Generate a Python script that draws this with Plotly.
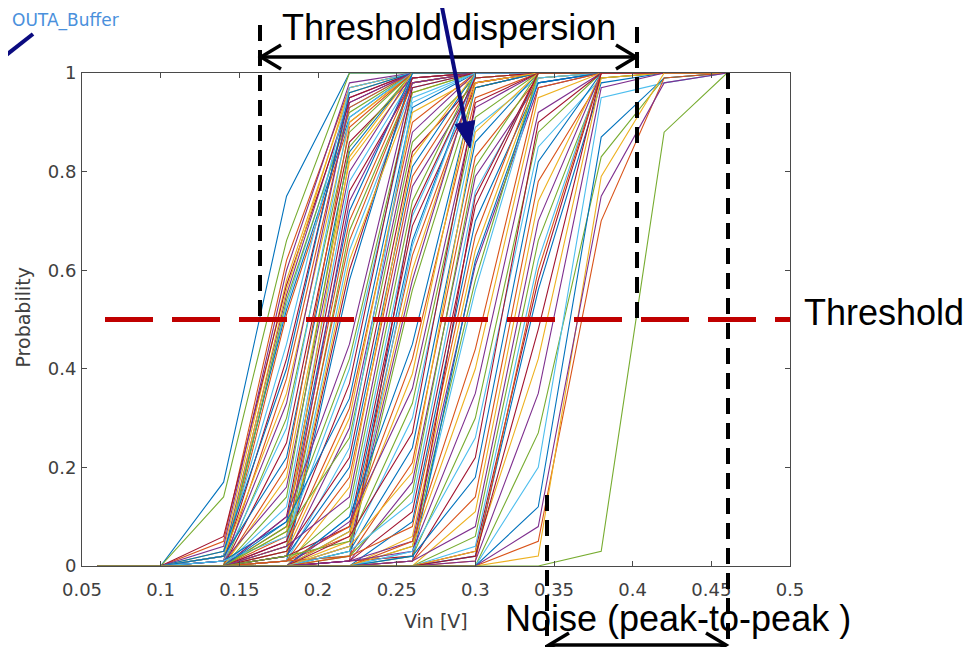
import math
import plotly.graph_objects as go

# ---------------- data ----------------
vin = [0.06, 0.10, 0.14, 0.18, 0.22, 0.26, 0.30, 0.34, 0.38, 0.42, 0.46]

probability_curves = [
    # threshold crossed between 0.14 and 0.18
    [0, 0, .17, .75, 1, 1, 1, 1, 1, 1, 1],
    [0, 0, .05, .62, .97, 1, 1, 1, 1, 1, 1],
    [0, 0, .03, .58, .96, 1, 1, 1, 1, 1, 1],
    [0, 0, .02, .55, .95, 1, 1, 1, 1, 1, 1],
    [0, 0, .14, .66, 1, 1, 1, 1, 1, 1, 1],
    [0, 0, .01, .53, .93, 1, 1, 1, 1, 1, 1],
    [0, 0, .06, .57, .94, 1, 1, 1, 1, 1, 1],
    [0, 0, .02, .52, .91, 1, 1, 1, 1, 1, 1],
    [0, 0, 0, .51, .90, 1, 1, 1, 1, 1, 1],
    [0, 0, .01, .56, .97, 1, 1, 1, 1, 1, 1],
    [0, 0, .04, .60, .98, 1, 1, 1, 1, 1, 1],
    [0, 0, 0, .54, .92, 1, 1, 1, 1, 1, 1],
    # threshold crossed between 0.18 and 0.22
    [0, 0, .02, .45, .97, 1, 1, 1, 1, 1, 1],
    [0, 0, .01, .42, .95, 1, 1, 1, 1, 1, 1],
    [0, 0, .03, .40, .96, 1, 1, 1, 1, 1, 1],
    [0, 0, 0, .38, .93, 1, 1, 1, 1, 1, 1],
    [0, 0, .02, .35, .90, 1, 1, 1, 1, 1, 1],
    [0, 0, .01, .33, .94, 1, 1, 1, 1, 1, 1],
    [0, 0, 0, .30, .88, 1, 1, 1, 1, 1, 1],
    [0, 0, .01, .28, .91, 1, 1, 1, 1, 1, 1],
    [0, 0, 0, .25, .86, .99, 1, 1, 1, 1, 1],
    [0, 0, .02, .22, .84, 1, 1, 1, 1, 1, 1],
    [0, 0, 0, .20, .89, 1, 1, 1, 1, 1, 1],
    [0, 0, 0, .18, .82, .99, 1, 1, 1, 1, 1],
    [0, 0, .01, .16, .80, 1, 1, 1, 1, 1, 1],
    [0, 0, 0, .14, .85, 1, 1, 1, 1, 1, 1],
    [0, 0, 0, .12, .78, .99, 1, 1, 1, 1, 1],
    [0, 0, 0, .10, .76, .98, 1, 1, 1, 1, 1],
    [0, 0, .01, .09, .72, 1, 1, 1, 1, 1, 1],
    [0, 0, 0, .08, .70, .99, 1, 1, 1, 1, 1],
    [0, 0, 0, .07, .83, 1, 1, 1, 1, 1, 1],
    [0, 0, 0, .05, .74, .99, 1, 1, 1, 1, 1],
    [0, 0, 0, .04, .68, .98, 1, 1, 1, 1, 1],
    [0, 0, 0, .03, .64, .97, 1, 1, 1, 1, 1],
    [0, 0, 0, .02, .60, .99, 1, 1, 1, 1, 1],
    [0, 0, 0, .01, .58, 1, 1, 1, 1, 1, 1],
    [0, 0, 0, .06, .66, .98, 1, 1, 1, 1, 1],
    [0, 0, 0, .02, .62, .96, 1, 1, 1, 1, 1],
    # threshold crossed between 0.22 and 0.26
    [0, 0, 0, .10, .45, .98, 1, 1, 1, 1, 1],
    [0, 0, 0, .08, .42, .96, 1, 1, 1, 1, 1],
    [0, 0, .01, .06, .40, .95, 1, 1, 1, 1, 1],
    [0, 0, 0, .05, .37, .97, 1, 1, 1, 1, 1],
    [0, 0, 0, .09, .34, .93, 1, 1, 1, 1, 1],
    [0, 0, 0, .04, .32, .90, 1, 1, 1, 1, 1],
    [0, 0, 0, .03, .30, .92, .99, 1, 1, 1, 1],
    [0, 0, 0, .02, .28, .88, 1, 1, 1, 1, 1],
    [0, 0, 0, .07, .26, .86, .99, 1, 1, 1, 1],
    [0, 0, 0, .01, .24, .94, 1, 1, 1, 1, 1],
    [0, 0, 0, .03, .22, .84, .98, 1, 1, 1, 1],
    [0, 0, 0, .02, .20, .81, 1, 1, 1, 1, 1],
    [0, 0, 0, .01, .18, .79, .99, 1, 1, 1, 1],
    [0, 0, 0, 0, .16, .83, 1, 1, 1, 1, 1],
    [0, 0, 0, .04, .14, .77, .98, 1, 1, 1, 1],
    [0, 0, 0, .01, .12, .74, 1, 1, 1, 1, 1],
    [0, 0, 0, 0, .10, .71, .99, 1, 1, 1, 1],
    [0, 0, 0, .02, .08, .69, .97, 1, 1, 1, 1],
    [0, 0, 0, 0, .07, .66, 1, 1, 1, 1, 1],
    [0, 0, 0, .01, .06, .63, .98, 1, 1, 1, 1],
    [0, 0, 0, 0, .05, .60, .99, 1, 1, 1, 1],
    [0, 0, 0, 0, .04, .58, 1, 1, 1, 1, 1],
    [0, 0, 0, 0, .03, .56, .97, 1, 1, 1, 1],
    [0, 0, 0, .01, .02, .65, 1, 1, 1, 1, 1],
    [0, 0, 0, 0, .01, .72, .99, 1, 1, 1, 1],
    # threshold crossed between 0.26 and 0.30
    [0, 0, 0, 0, .10, .45, .97, 1, 1, 1, 1],
    [0, 0, 0, .01, .08, .42, .95, 1, 1, 1, 1],
    [0, 0, 0, 0, .07, .39, .98, 1, 1, 1, 1],
    [0, 0, 0, 0, .09, .36, .93, 1, 1, 1, 1],
    [0, 0, 0, .02, .05, .33, .91, 1, 1, 1, 1],
    [0, 0, 0, 0, .04, .30, .89, .99, 1, 1, 1],
    [0, 0, 0, 0, .06, .27, .94, 1, 1, 1, 1],
    [0, 0, 0, 0, .03, .24, .86, 1, 1, 1, 1],
    [0, 0, 0, .01, .02, .21, .83, .99, 1, 1, 1],
    [0, 0, 0, 0, .04, .19, .88, 1, 1, 1, 1],
    [0, 0, 0, 0, .01, .17, .79, .98, 1, 1, 1],
    [0, 0, 0, 0, .02, .15, .81, 1, 1, 1, 1],
    [0, 0, 0, 0, .03, .13, .76, .99, 1, 1, 1],
    [0, 0, 0, 0, .01, .11, .73, 1, 1, 1, 1],
    [0, 0, 0, 0, 0, .09, .70, .98, 1, 1, 1],
    [0, 0, 0, 0, .02, .08, .67, 1, 1, 1, 1],
    [0, 0, 0, 0, 0, .06, .64, .99, 1, 1, 1],
    [0, 0, 0, 0, .01, .05, .61, .97, 1, 1, 1],
    [0, 0, 0, 0, 0, .04, .58, 1, 1, 1, 1],
    [0, 0, 0, 0, 0, .03, .56, .99, 1, 1, 1],
    [0, 0, 0, 0, .01, .02, .75, 1, 1, 1, 1],
    [0, 0, 0, 0, 0, .01, .62, .98, 1, 1, 1],
    # threshold crossed between 0.30 and 0.34
    [0, 0, 0, 0, 0, .05, .44, .97, 1, 1, 1],
    [0, 0, 0, 0, 0, .04, .40, .95, 1, 1, 1],
    [0, 0, 0, 0, .01, .03, .35, .92, 1, 1, 1],
    [0, 0, 0, 0, 0, .02, .30, .88, 1, 1, 1],
    [0, 0, 0, 0, 0, .03, .26, .85, .99, 1, 1],
    [0, 0, 0, 0, 0, .01, .22, .90, 1, 1, 1],
    [0, 0, 0, 0, 0, .02, .18, .82, 1, 1, 1],
    [0, 0, 0, 0, 0, .01, .14, .78, .99, 1, 1],
    [0, 0, 0, 0, 0, 0, .11, .74, 1, 1, 1],
    [0, 0, 0, 0, 0, .01, .08, .70, 1, 1, 1],
    [0, 0, 0, 0, 0, 0, .06, .66, .99, 1, 1],
    [0, 0, 0, 0, 0, 0, .04, .62, 1, 1, 1],
    [0, 0, 0, 0, 0, 0, .03, .58, 1, 1, 1],
    [0, 0, 0, 0, 0, 0, .02, .56, .98, 1, 1],
    [0, 0, 0, 0, 0, 0, .01, .60, 1, 1, 1],
    # threshold crossed between 0.34 and 0.38
    [0, 0, 0, 0, 0, 0, .03, .42, .99, 1, 1],
    [0, 0, 0, 0, 0, 0, .01, .35, .97, 1, 1],
    [0, 0, 0, 0, 0, 0, 0, .27, .83, .99, 1],
    [0, 0, 0, 0, 0, 0, 0, .20, .95, .98, 1],
    [0, 0, 0, 0, 0, 0, .02, .48, 1, 1, 1],
    [0, 0, 0, 0, 0, 0, 0, .12, .87, .99, 1],
    [0, 0, 0, 0, 0, 0, 0, .05, .70, .99, 1],
    [0, 0, 0, 0, 0, 0, 0, .02, .79, 1, 1],
    [0, 0, 0, 0, 0, 0, 0, .08, .75, .98, 1],
    # threshold crossed between 0.38 and 0.42
    [0, 0, 0, 0, 0, 0, 0, 0, .03, .88, 1],
]

line_colors = ['#0072BD', '#D95319', '#EDB120', '#7E2F8E', '#77AC30', '#4DBEEE', '#A2142F']

x_ticks = [0.05, 0.10, 0.15, 0.20, 0.25, 0.30, 0.35, 0.40, 0.45, 0.50]
x_tick_labels = ['0.05', '0.1', '0.15', '0.2', '0.25', '0.3', '0.35', '0.4', '0.45', '0.5']
y_ticks = [0, 0.2, 0.4, 0.6, 0.8, 1.0]
y_tick_labels = ['0', '0.2', '0.4', '0.6', '0.8', '1']

threshold = 0.5

# ---------------- layout geometry ----------------
# page pixel positions (the html body has an 8px margin)
OFF = 8
W, H = 973 - 2 * OFF, 655 - 2 * OFF
PL, PR, PT, PB = 82, 790, 73, 566   # plot area in page pixels


def px(x):
    return (x - PL) / (PR - PL)


def py(y):
    return (PB - y) / (PB - PT)


AX_COL = '#4a4a4a'
TXT_COL = '#404040'
BIG_FONT = dict(family='Liberation Sans, Arial, sans-serif', size=36, color='black')
AX_FONT = dict(family='DejaVu Sans, sans-serif', size=18, color=TXT_COL)

fig = go.Figure()
for i, ys in enumerate(probability_curves):
    fig.add_trace(go.Scatter(
        x=vin, y=ys, mode='lines',
        line=dict(color=line_colors[i % len(line_colors)], width=1.1),
        showlegend=False, hoverinfo='skip'))

shapes = []
# red threshold line
shapes.append(dict(type='line', xref='paper', yref='y', x0=px(105), x1=1.0,
                   y0=threshold, y1=threshold, layer='above',
                   line=dict(color='#C00000', width=5, dash='48px,19px')))
# black dashed verticals
for (xx, ya, yb) in [(260, 25, 320), (637, 27, 320), (728, 73, 660), (547, 495, 660)]:
    shapes.append(dict(type='line', xref='paper', yref='paper',
                       x0=px(xx), x1=px(xx), y0=py(ya), y1=py(yb), layer='above',
                       line=dict(color='black', width=4, dash='16px,9px')))


def seg_path(points):
    return 'M ' + ' L '.join(f'{px(a):.5f},{py(b):.5f}' for a, b in points)


def double_arrow(x0, x1, y, head=20, half=12):
    out = [dict(type='path', xref='paper', yref='paper', layer='above',
                path=seg_path([(x0 + 1, y), (x1 - 1, y)]),
                line=dict(color='black', width=3.5))]
    out.append(dict(type='path', xref='paper', yref='paper', layer='above',
                    path=seg_path([(x0 + head, y - half), (x0, y), (x0 + head, y + half)]),
                    line=dict(color='black', width=3.5)))
    out.append(dict(type='path', xref='paper', yref='paper', layer='above',
                    path=seg_path([(x1 - head, y - half), (x1, y), (x1 - head, y + half)]),
                    line=dict(color='black', width=3.5)))
    return out


shapes += double_arrow(261, 636, 57)
shapes += double_arrow(549, 726, 645)

# navy pointer arrow
NAVY = '#0B0B80'
tail = (440, -3)
tip = (470, 148)
dx, dy = tip[0] - tail[0], tip[1] - tail[1]
ln = math.hypot(dx, dy)
ux, uy = dx / ln, dy / ln
nx, ny = -uy, ux
hl, hw = 26, 10
bx, by = tip[0] - hl * ux, tip[1] - hl * uy
shapes.append(dict(type='path', xref='paper', yref='paper', layer='above',
                   path=seg_path([tail, (bx + 2 * ux, by + 2 * uy)]),
                   line=dict(color=NAVY, width=4)))
shapes.append(dict(type='path', xref='paper', yref='paper', layer='above',
                   path=seg_path([(bx + hw * nx, by + hw * ny), tip, (bx - hw * nx, by - hw * ny)]) + ' Z',
                   fillcolor=NAVY, line=dict(color=NAVY, width=1)))
# navy line at top-left
shapes.append(dict(type='path', xref='paper', yref='paper', layer='above',
                   path=seg_path([(-4, 63), (33, 34)]),
                   line=dict(color=NAVY, width=4)))

annotations = [
    dict(text='OUTA_Buffer', x=px(10), y=py(21), xanchor='left', yanchor='middle',
         font=dict(family='DejaVu Sans, sans-serif', size=17, color='#4A90DC')),
    dict(text='Threshold dispersion', x=px(449), y=py(28), xanchor='center', yanchor='middle',
         font=BIG_FONT),
    dict(text='Threshold', x=px(802), y=py(312), xanchor='left', yanchor='middle', font=BIG_FONT),
    dict(text='Noise (peak-to-peak )', x=px(503), y=py(618), xanchor='left', yanchor='middle',
         font=BIG_FONT),
    dict(text='Probability', x=px(22.5), y=py(318), xanchor='center', yanchor='middle',
         textangle=-90, font=dict(family='DejaVu Sans, sans-serif', size=19, color=TXT_COL)),
    dict(text='Vin [V]', x=px(436), y=py(621), xanchor='center', yanchor='middle',
         font=dict(family='DejaVu Sans, sans-serif', size=19, color=TXT_COL)),
]
for a in annotations:
    a.update(xref='paper', yref='paper', showarrow=False)

fig.update_layout(
    width=W, height=H,
    margin=dict(l=PL - OFF, r=(W + OFF) - PR, t=PT - OFF, b=(H + OFF) - PB, pad=0,
                autoexpand=False),
    paper_bgcolor='white', plot_bgcolor='white',
    showlegend=False,
    shapes=shapes, annotations=annotations,
    xaxis=dict(range=[0.05, 0.5], tickvals=x_ticks, ticktext=x_tick_labels,
               ticks='inside', ticklen=5, tickcolor=AX_COL, showline=True,
               linecolor=AX_COL, linewidth=1, mirror='ticks', showgrid=False,
               zeroline=False, tickfont=AX_FONT, ticklabelstandoff=7),
    yaxis=dict(range=[0, 1], tickvals=y_ticks, ticktext=y_tick_labels,
               ticks='inside', ticklen=5, tickcolor=AX_COL, showline=True,
               linecolor=AX_COL, linewidth=1, mirror='ticks', showgrid=False,
               zeroline=False, tickfont=AX_FONT, ticklabelstandoff=1),
)

fig.write_html('out.html')
